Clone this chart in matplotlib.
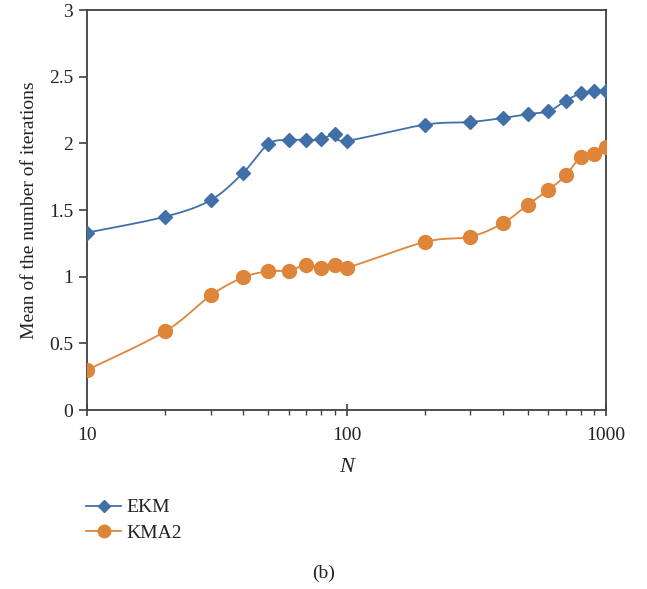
import numpy as np
import matplotlib.pyplot as plt
from matplotlib.ticker import FixedLocator, NullFormatter

# ------------------------------------------------------------
# Data
# ------------------------------------------------------------
n_values = [10, 20, 30, 40, 50, 60, 70, 80, 90, 100,
            200, 300, 400, 500, 600, 700, 800, 900, 1000]

ekm = [1.33, 1.45, 1.575, 1.78, 1.995, 2.025, 2.025, 2.03, 2.07, 2.02,
       2.14, 2.16, 2.19, 2.22, 2.24, 2.32, 2.375, 2.39, 2.395]

kma2 = [0.30, 0.59, 0.86, 0.995, 1.04, 1.045, 1.09, 1.067, 1.09, 1.067,
        1.26, 1.30, 1.40, 1.54, 1.65, 1.76, 1.90, 1.92, 1.97]

color_ekm = "#4170A8"
color_kma2 = "#DE853A"


def smooth_line(x, y, steps=20):
    # Excel-style smoothed line: Catmull-Rom bezier in log-x space
    lx = np.log10(np.asarray(x, dtype=float))
    ly = np.asarray(y, dtype=float)
    px = np.concatenate([[lx[0]], lx, [lx[-1]]])
    py = np.concatenate([[ly[0]], ly, [ly[-1]]])
    out_x, out_y = [], []
    t = np.linspace(0, 1, steps)
    for i in range(1, len(px) - 2):
        p0 = np.array([px[i], py[i]])
        p3 = np.array([px[i + 1], py[i + 1]])
        p1 = p0 + (np.array([px[i + 1], py[i + 1]]) - np.array([px[i - 1], py[i - 1]])) / 6
        p2 = p3 - (np.array([px[i + 2], py[i + 2]]) - np.array([px[i], py[i]])) / 6
        b = ((1 - t) ** 3)[:, None] * p0 + (3 * (1 - t) ** 2 * t)[:, None] * p1 \
            + (3 * (1 - t) * t ** 2)[:, None] * p2 + (t ** 3)[:, None] * p3
        out_x.extend(b[:, 0])
        out_y.extend(b[:, 1])
    return 10 ** np.array(out_x), np.array(out_y)


plt.rcParams["font.family"] = ["Liberation Serif", "DejaVu Serif"]

fig = plt.figure(figsize=(6.47, 5.89), dpi=100)
ax = fig.add_axes([0.1345, 0.3039, 0.8021, 0.6791])

sx, sy = smooth_line(n_values, ekm)
ax.plot(sx, sy, color=color_ekm, lw=1.3, zorder=2)
ax.plot(n_values, ekm, linestyle="none", marker="D", markersize=7.5,
        color=color_ekm, zorder=3)

sx, sy = smooth_line(n_values, kma2)
ax.plot(sx, sy, color=color_kma2, lw=1.3, zorder=2)
ax.plot(n_values, kma2, linestyle="none", marker="o", markersize=10,
        color=color_kma2, zorder=3)

ax.set_xscale("log")
ax.set_xlim(10, 1000)
ax.set_ylim(0, 3)
ax.set_yticks([0, 0.5, 1, 1.5, 2, 2.5, 3])
ax.set_yticklabels(["0", "0.5", "1", "1.5", "2", "2.5", "3"])
ax.set_xticks([10, 100, 1000])
ax.set_xticklabels(["10", "100", "1000"])
minors = [m * d for d in (10, 100) for m in range(2, 10)]
ax.xaxis.set_minor_locator(FixedLocator(minors))
ax.xaxis.set_minor_formatter(NullFormatter())

for s in ax.spines.values():
    s.set_color("#404040")
    s.set_linewidth(1.3)

ax.tick_params(axis="both", which="major", labelsize=14, color="#404040",
               width=1.2, length=6, labelcolor="#222222")
ax.tick_params(axis="x", which="major", direction="inout", length=8, pad=8)
ax.tick_params(axis="y", which="major", direction="out", pad=4)
ax.tick_params(axis="x", which="minor", direction="out", length=3.5,
               width=1.0, color="#404040")

ax.set_xlabel("N", fontsize=16, fontstyle="italic", labelpad=10,
              color="#222222")
ax.set_ylabel("Mean of the number of iterations", fontsize=14, labelpad=8,
              color="#222222")

# legend below the plot
h_ekm, = ax.plot([], [], color=color_ekm, lw=1.3, alpha=1, marker="D",
                 markersize=6.5, label="EKM")
h_kma2, = ax.plot([], [], color=color_kma2, lw=1.3, marker="o",
                  markersize=9, label="KMA2")
fig.legend([h_ekm, h_kma2], ["EKM", "KMA2"], loc="upper left",
           bbox_to_anchor=(0.133, 0.153), frameon=False, fontsize=14,
           borderpad=0, borderaxespad=0,
           handlelength=1.8, handletextpad=0.26, labelspacing=0.4,
           labelcolor="#222222")

fig.text(0.5, 0.027, "(b)", ha="center", va="center", fontsize=14,
         color="#222222")

fig.savefig("out.png", dpi=100)
